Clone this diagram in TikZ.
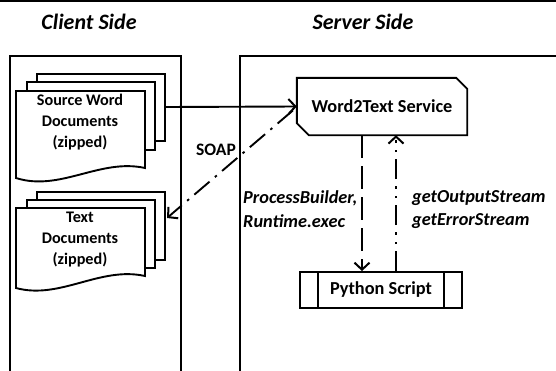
\documentclass[tikz,border=0pt]{standalone}
\usepackage{fontspec}
\setmainfont{Carlito}
\usetikzlibrary{arrows.meta,calc}
\tikzset{
  line/.style={line width=1.9pt, line join=miter},
  tip/.style={-{Straight Barb[length=7pt,width=15pt,line width=2pt]}},
  title/.style={font=\fontsize{22}{24}\selectfont\bfseries\itshape},
  body/.style={font=\fontsize{16.2}{21}\selectfont\bfseries, align=center},
  bigbody/.style={font=\fontsize{18.3}{21}\selectfont\bfseries, align=center},
  lbl/.style={font=\fontsize{18.3}{21}\selectfont\bfseries\itshape, anchor=west, inner sep=0pt},
  soapline/.style={line, dash pattern=on 20pt off 7pt on 2.5pt off 7pt},
  callline/.style={line, dash pattern=on 23pt off 8pt},
  retline/.style={line, dash pattern=on 20pt off 7pt on 2.5pt off 7pt on 2.5pt off 7pt},
}
\begin{document}
\begin{tikzpicture}[x=1pt,y=-1pt]
\useasboundingbox (0,0) rectangle (556,370);
% top rule
\draw[line width=1.5pt] (0,1) -- (556,1);
% titles
\node[title] (tclient) at (89,22) {Client Side};
\node[title] (tserver) at (363,22) {Server Side};
% swimlanes
\draw[line] (10,375) -- (10,56) -- (181,56) -- (181,375);
\draw[line] (240,375) -- (240,56) -- (560,56);
% source documents stack
\draw[line] (37,82) -- (37,74) -- (165,74) -- (165,141) -- (155,141);
\draw[line] (27,91) -- (27,82) -- (155,82) -- (155,150) -- (145,150);
\draw[line, fill=white] (16,91) -- (145,91) -- (145,168) .. controls (100,158) and (60,192) .. (16,178) -- cycle;
\coordinate (srcr) at (165,107);
\node[body] (src) at (80,122) {Source Word\\Documents\\(zipped)};
% text documents stack
\draw[line] (37,200) -- (37,192) -- (165,192) -- (165,260) -- (155,260);
\draw[line] (27,208) -- (27,200) -- (155,200) -- (155,268) -- (145,268);
\draw[line, fill=white] (16,208) -- (145,208) -- (145,276) .. controls (100,266) and (60,300) .. (16,288) -- cycle;
\coordinate (txtr) at (167,218);
\node[body] (txt) at (80,240) {Text\\Documents\\(zipped)};
% Word2Text service
\node[bigbody, minimum width=170pt, minimum height=57pt, inner sep=0pt] (w2t) at (382,106.5) {Word2Text Service};
\draw[line] (w2t.north west) -- ([xshift=-11pt]w2t.north east) -- ([yshift=-11pt]w2t.north east)
  -- (w2t.south east) -- ([xshift=12pt]w2t.south west) -- ([yshift=12pt]w2t.south west) -- cycle;
% Python script
\node[bigbody, draw, line, minimum width=162pt, minimum height=36pt, inner sep=0pt] (py) at (381,290) {Python Script};
\draw[line] ([xshift=19pt]py.north west) -- ([xshift=19pt]py.south west);
\draw[line] ([xshift=-19pt]py.north east) -- ([xshift=-19pt]py.south east);
% connectors
\draw[line, tip] (srcr) -- (w2t.west);
\draw[soapline, tip] ([shift={(-4pt,-4pt)}]w2t.west) -- (txtr);
\node[font=\fontsize{17.5}{21}\selectfont\bfseries] (soap) at (216,150) {SOAP};
\draw[callline, tip] ([xshift=-20pt]w2t.south) -- ([xshift=-20pt]w2t.south |- py.north);
\draw[retline, tip] ([xshift=14pt]w2t.south |- py.north) -- ([xshift=14pt]w2t.south);
% labels
\node[lbl] (pb) at (243,198) {ProcessBuilder,};
\node[lbl] (rt) at (243,221) {Runtime.exec};
\node[lbl] (go) at (412,198) {getOutputStream};
\node[lbl] (ge) at (412,221) {getErrorStream};
\end{tikzpicture}
\end{document}
